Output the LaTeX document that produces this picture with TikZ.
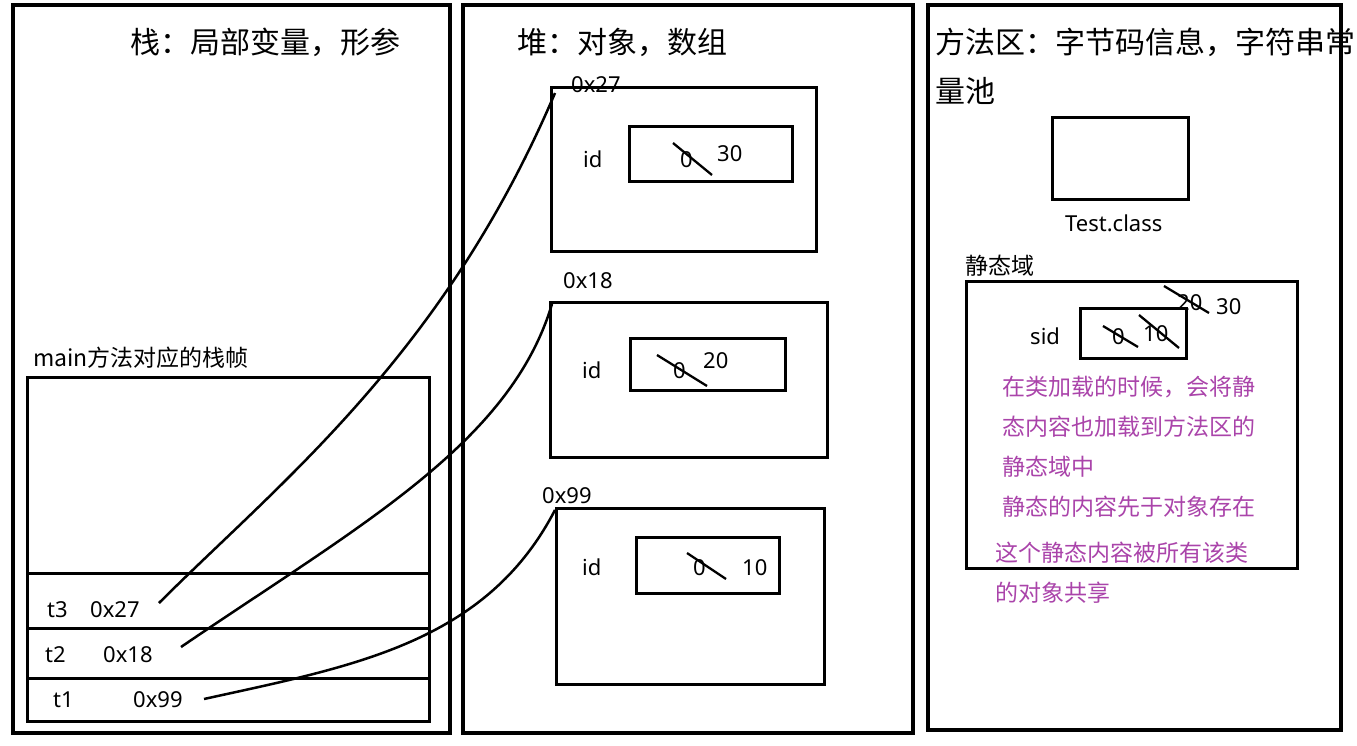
\documentclass[tikz,border=0pt]{standalone}
\usepackage{fontspec}
\setmainfont{Noto Sans}
\newfontfamily\cjk{Noto Sans CJK SC}
\definecolor{note}{RGB}{170,68,170}
\begin{document}
\begin{tikzpicture}[x=1pt,y=-1pt,
  colbox/.style={draw=black,line width=3.5pt},
  objbox/.style={draw=black,line width=3pt},
  strike/.style={draw=black,line width=2.3pt},
  link/.style={draw=black,line width=2.5pt},
  lbl/.style={inner sep=0pt,anchor=base west,font=\fontsize{22}{26}\selectfont},
  head/.style={inner sep=0pt,anchor=base west,font=\cjk\fontsize{30}{34}\selectfont},
  small/.style={inner sep=0pt,anchor=base west,font=\cjk\fontsize{23}{27}\selectfont},
  notetext/.style={inner sep=0pt,anchor=base west,text=note,font=\cjk\fontsize{23}{27}\selectfont}]
\useasboundingbox (0,0) rectangle (1357,745);
\fill[white] (0,0) rectangle (1357,745);

% columns
\draw[colbox] (13,5) rectangle (450,733);
\draw[colbox] (463,5) rectangle (913,733);
\draw[colbox] (928,5) rectangle (1341,730);

\node[head] (hstack) at (130,53) {栈：局部变量，形参};
\node[head] (hheap) at (517,53) {堆：对象，数组};
\node[head] (hmeth1) at (935,53) {方法区：字节码信息，字符串常};
\node[head] (hmeth2) at (935,102) {量池};

% stack frame
\node[small] (frametitle) at (33,366) {main\cjk 方法对应的栈帧};
\draw[objbox] (27,377) rectangle (429,721);
\draw[objbox] (27,573) -- (429,573);
\draw[objbox] (27,628) -- (429,628);
\draw[objbox] (27,678) -- (429,678);
\node[lbl] (t3) at (47,617) {t3};
\node[lbl] (v3) at (90,617) {0x27};
\node[lbl] (t2) at (45,662) {t2};
\node[lbl] (v2) at (103,662) {0x18};
\node[lbl] (t1) at (53,707) {t1};
\node[lbl] (v1) at (133,707) {0x99};
\coordinate (s3) at (159,603);
\coordinate (s2) at (181,647);
\coordinate (s1) at (204,699);

% heap object 0x27
\draw[objbox] (551,87) rectangle (816,251);
\node[lbl] (a1) at (571,92) {0x27};
\node[lbl] (id1) at (583,167) {id};
\draw[objbox] (629,126) rectangle (792,181);
\node[lbl] (z1) at (680,167) {0};
\node[lbl] (n30) at (717,161) {30};
\draw[strike] (673,143) -- (712,175);
\coordinate (e3) at (555,93);

% heap object 0x18
\draw[objbox] (550,302) rectangle (827,457);
\node[lbl] (a2) at (563,288) {0x18};
\node[lbl] (id2) at (582,378) {id};
\draw[objbox] (630,338) rectangle (785,390);
\node[lbl] (z2) at (673,378) {0};
\node[lbl] (n20) at (703,368) {20};
\draw[strike] (657,355) -- (707,386);
\coordinate (e2) at (552,304);

% heap object 0x99
\draw[objbox] (556,508) rectangle (824,684);
\node[lbl] (a3) at (542,503) {0x99};
\node[lbl] (id3) at (582,575) {id};
\draw[objbox] (636,537) rectangle (779,593);
\node[lbl] (z3) at (693,575) {0};
\node[lbl] (n10) at (742,575) {10};
\draw[strike] (687,553) -- (726,579);
\coordinate (e1) at (555,510);

% connectors
\draw[link] (s3) .. controls (279,483) and (443,356) .. (e3);
\draw[link] (s2) .. controls (360,525) and (510,444) .. (e2);
\draw[link] (s1) .. controls (354,666) and (486,643) .. (e1);

% method area
\draw[objbox] (1052,117) rectangle (1188,199);
\node[lbl] (testc) at (1065,231) {Test.class};
\node[small] (sfield) at (965,274) {静态域};
\draw[objbox] (966,281) rectangle (1297,568);
\node[lbl] (sid) at (1030,344) {sid};
\draw[objbox] (1080,308) rectangle (1186,358);
\node[lbl] (sz) at (1112,344) {0};
\draw[strike] (1103,326) -- (1138,347);
\node[lbl] (s10) at (1143,341) {10};
\draw[strike] (1139,315) -- (1179,348);
\node[lbl] (s20) at (1177,310) {20};
\draw[strike] (1164,286) -- (1209,313);
\node[lbl] (s30) at (1216,314) {30};

\node[notetext] (n1) at (1002,395) {在类加载的时候，会将静};
\node[notetext] (n2) at (1002,435) {态内容也加载到方法区的};
\node[notetext] (n3) at (1002,475) {静态域中};
\node[notetext] (n4) at (1002,515) {静态的内容先于对象存在};
\node[notetext] (n5) at (995,561) {这个静态内容被所有该类};
\node[notetext] (n6) at (995,601) {的对象共享};
\end{tikzpicture}
\end{document}
